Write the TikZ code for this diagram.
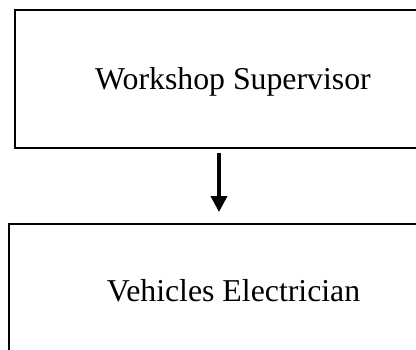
\documentclass[tikz,border=0pt]{standalone}
\usepackage{fontspec}
\setmainfont{Liberation Serif}
\usetikzlibrary{arrows.meta, positioning, calc}

\begin{document}
\begin{tikzpicture}[x=1pt, y=-1pt,
  role/.style={rectangle, draw=black, line width=2pt, fill=white, inner sep=0pt,
               text depth=0pt, font=\fontsize{31.8}{38}\selectfont, align=center},
  arr/.style={-{Triangle[length=16pt, width=16pt]}, line width=3.8pt, black},
]
  \useasboundingbox (0,0) rectangle (416,349);
  \clip (0,0) rectangle (416,349);

  \node[role, minimum width=436pt, minimum height=137.5pt] (sup) at (233,78.75) {Workshop Supervisor};
  \node[role, minimum width=449pt, minimum height=132pt]   (ele) at (233.5,290) {Vehicles Electrician};

  \draw[arr] ([xshift=-14pt, yshift=-4.5pt]sup.south) -- ([xshift=-14.5pt, yshift=11pt]ele.north);
\end{tikzpicture}
\end{document}
